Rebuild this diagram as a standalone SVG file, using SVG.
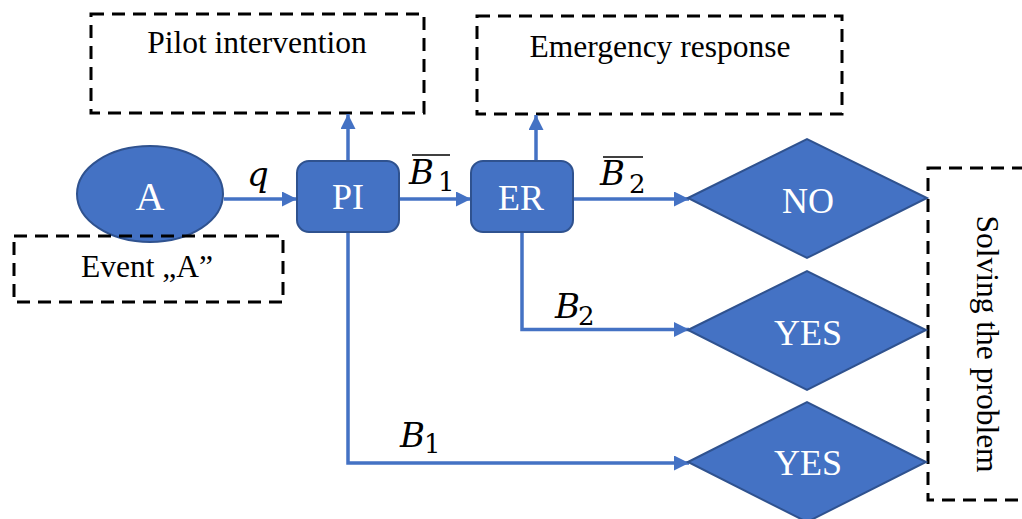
<svg xmlns="http://www.w3.org/2000/svg" width="1022" height="519" viewBox="0 0 1022 519">
  <defs>
    <style>
      .shape { fill: #4472c4; stroke: #2f528f; stroke-width: 2; }
      .label { font-family: "Liberation Serif", "Times New Roman", serif; fill: #ffffff; text-anchor: middle; }
      .note { fill: none; stroke: #000000; stroke-width: 3; stroke-dasharray: 13 8; }
      .note-text { font-family: "Liberation Serif", "Times New Roman", serif; font-size: 31.5px; fill: #000000; text-anchor: middle; }
      .wire { fill: none; stroke: #4472c4; stroke-width: 3.5; }
      .math { font-family: "DejaVu Serif", "Liberation Serif", serif; font-style: italic; font-size: 34px; fill: #000000; }
      .sub { font-family: "DejaVu Serif", "Liberation Serif", serif; font-size: 26px; fill: #000000; }
      .bar { stroke: #000000; stroke-width: 1.6; }
    </style>
    <marker id="arrow" markerUnits="userSpaceOnUse" markerWidth="16" markerHeight="16" refX="15" refY="7.5" orient="auto">
      <path d="M0,0 L15,7.5 L0,15 z" fill="#4472c4"/>
    </marker>
  </defs>

  <rect width="1022" height="519" fill="#ffffff"/>

  <!-- annotation frames -->
  <g id="note-pilot">
    <rect class="note" x="91" y="14" width="333" height="99"/>
    <text class="note-text" x="257" y="53">Pilot intervention</text>
  </g>
  <g id="note-emergency">
    <rect class="note" x="477" y="16" width="365" height="98"/>
    <text class="note-text" x="660" y="57">Emergency response</text>
  </g>
  <g id="note-solving">
    <rect class="note" x="928" y="168" width="110" height="332"/>
    <text class="note-text" transform="translate(977,344) rotate(90)">Solving the problem</text>
  </g>

  <!-- connectors -->
  <g id="connectors">
    <line class="wire" x1="224" y1="199" x2="297" y2="199" marker-end="url(#arrow)"/>
    <line class="wire" x1="399" y1="199" x2="471" y2="199" marker-end="url(#arrow)"/>
    <line class="wire" x1="573" y1="199" x2="689" y2="199" marker-end="url(#arrow)"/>
    <line class="wire" x1="348" y1="161" x2="348" y2="114" marker-end="url(#arrow)"/>
    <line class="wire" x1="536" y1="161" x2="536" y2="115" marker-end="url(#arrow)"/>
    <polyline class="wire" points="522,232 522,329.5 689,329.5" marker-end="url(#arrow)"/>
    <polyline class="wire" points="348,232 348,463 689,463" marker-end="url(#arrow)"/>

    <!-- branch labels -->
    <text class="math" x="247" y="186">q</text>

    <line class="bar" x1="412" y1="155" x2="450" y2="155"/>
    <text class="math" x="409" y="184">B</text>
    <text class="sub" x="438" y="191">1</text>

    <line class="bar" x1="603" y1="157" x2="643" y2="157"/>
    <text class="math" x="600" y="185">B</text>
    <text class="sub" x="629" y="193">2</text>

    <text class="math" x="555" y="318">B</text>
    <text class="sub" x="578" y="325">2</text>

    <text class="math" x="400" y="447">B</text>
    <text class="sub" x="424" y="453">1</text>
  </g>

  <!-- nodes -->
  <g id="node-a">
    <ellipse class="shape" cx="150" cy="194" rx="73" ry="48"/>
    <text class="label" x="150" y="210" font-size="40">A</text>
  </g>
  <g id="note-event">
    <rect class="note" x="14" y="236" width="269" height="66"/>
    <text class="note-text" x="147" y="277">Event „A”</text>
  </g>
  <g id="node-pi">
    <rect class="shape" x="297" y="161" width="102" height="71" rx="12"/>
    <text class="label" x="348" y="209" font-size="36">PI</text>
  </g>
  <g id="node-er">
    <rect class="shape" x="471" y="161" width="102" height="71" rx="12"/>
    <text class="label" x="521" y="210" font-size="36">ER</text>
  </g>
  <g id="node-no">
    <polygon class="shape" points="688,198 807,139 927,198 807,258"/>
    <text class="label" x="808" y="213" font-size="36">NO</text>
  </g>
  <g id="node-yes-er">
    <polygon class="shape" points="688,330 807,271 926,330 807,390"/>
    <text class="label" x="808" y="345" font-size="36">YES</text>
  </g>
  <g id="node-yes-pi">
    <polygon class="shape" points="688,462 807,402 926,462 807,522"/>
    <text class="label" x="808" y="475" font-size="36">YES</text>
  </g>
</svg>
